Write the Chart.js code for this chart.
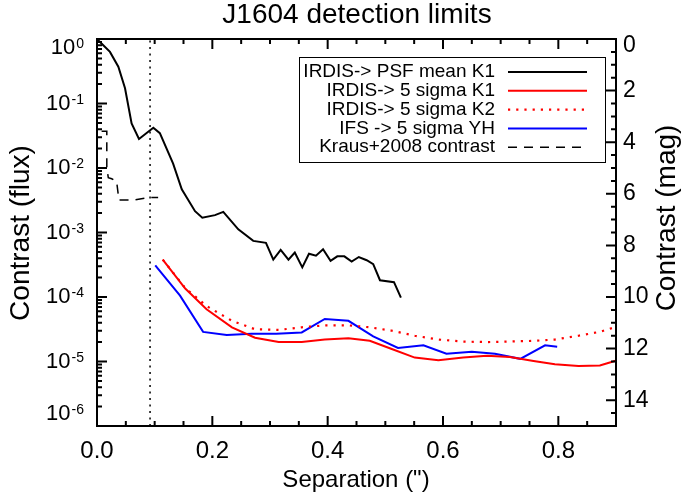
<!DOCTYPE html>
<html>
<head>
<meta charset="utf-8">
<title>J1604 detection limits</title>
<script src="https://cdn.jsdelivr.net/npm/chart.js@4.4.1/dist/chart.umd.min.js"></script>
<style>
  html, body { margin: 0; padding: 0; background: #fff; }
  #wrap { width: 681px; height: 495px; }
</style>
</head>
<body>
<div id="wrap"><canvas id="limits" width="681" height="495"></canvas></div>
<script>
// IRDIS PSF mean K1
const psfSep = [0, 0.0225, 0.037, 0.0486, 0.060, 0.0728, 0.0977, 0.109, 0.132, 0.147, 0.170, 0.1826,
  0.2046, 0.219, 0.245, 0.271, 0.293, 0.3057, 0.3185, 0.332, 0.343, 0.356, 0.3676, 0.3797, 0.392,
  0.405, 0.4167, 0.4289, 0.4416, 0.454, 0.4677, 0.479, 0.4907, 0.515, 0.527];
const psfK1 = [1, 0.631, 0.372, 0.172, 0.049, 0.0282, 0.0422, 0.0347, 0.0117, 0.00468, 0.00214, 0.0017,
  0.00186, 0.00209, 0.00112, 7.41e-4, 6.92e-4, 3.8e-4, 5.37e-4, 3.8e-4, 4.9e-4, 2.88e-4, 4.68e-4, 4.37e-4, 5.5e-4,
  3.63e-4, 4.27e-4, 4.27e-4, 3.55e-4, 4.17e-4, 3.72e-4, 3.24e-4, 1.82e-4, 1.7e-4, 9.77e-5];

// IRDIS 5 sigma K1
const k1Sep = [0.114, 0.153, 0.190, 0.234, 0.274, 0.315, 0.355, 0.395, 0.436, 0.473, 0.510, 0.551,
  0.592, 0.635, 0.676, 0.716, 0.757, 0.794, 0.835, 0.872, 0.895, 0.912];
const k1Sigma = [3.8e-4, 1.35e-4, 6.46e-5, 3.39e-5, 2.34e-5, 2.0e-5, 2.0e-5, 2.19e-5, 2.29e-5, 2.09e-5, 1.58e-5, 1.15e-5,
  1.05e-5, 1.15e-5, 1.23e-5, 1.17e-5, 1.02e-5, 9.1e-6, 8.5e-6, 8.7e-6, 1.0e-5, 1.12e-5];

// IRDIS 5 sigma K2
const k2Sep = [0.114, 0.153, 0.190, 0.234, 0.274, 0.315, 0.355, 0.395, 0.436, 0.473, 0.510, 0.551,
  0.592, 0.635, 0.676, 0.716, 0.757, 0.794, 0.835, 0.872, 0.912];
const k2Sigma = [3.8e-4, 1.38e-4, 7.24e-5, 4.27e-5, 3.16e-5, 3.09e-5, 3.39e-5, 3.63e-5, 3.63e-5, 3.39e-5, 3.02e-5, 2.51e-5,
  2.19e-5, 2.04e-5, 2.0e-5, 2.04e-5, 2.09e-5, 2.19e-5, 2.51e-5, 2.88e-5, 3.72e-5];

// IFS 5 sigma YH
const ifsSep = [0.101, 0.144, 0.184, 0.225, 0.268, 0.311, 0.355, 0.395, 0.436, 0.479, 0.522, 0.566,
  0.606, 0.650, 0.690, 0.734, 0.777, 0.798];
const ifsYH = [3.09e-4, 1.05e-4, 2.88e-5, 2.57e-5, 2.69e-5, 2.69e-5, 2.82e-5, 4.57e-5, 4.27e-5, 2.45e-5, 1.62e-5, 1.78e-5,
  1.32e-5, 1.41e-5, 1.32e-5, 1.10e-5, 1.78e-5, 1.70e-5];

// Kraus+2008
const krausSep = [0.008, 0.017, 0.017, 0.0196, 0.0255, 0.034, 0.038, 0.066, 0.089, 0.106];
const krausContrast = [0.037, 0.037, 0.01, 0.0071, 0.0068, 0.0062, 0.0032, 0.0032, 0.0035, 0.0035];

const iwaSep = 0.092;

const xTickLabels = ['0.0', '0.2', '0.4', '0.6', '0.8'];
const yExponents = [0, -1, -2, -3, -4, -5, -6];
const magTicks = [0, 2, 4, 6, 8, 10, 12, 14];

const FONT = '"Liberation Sans", Arial, Helvetica, sans-serif';

function pts(xs, ys) {
  return xs.map((x, i) => ({ x: x, y: ys[i] }));
}

// IDL style frame: inward ticks, superscript labels, boxed legend
const idlAxes = {
  id: 'idlAxes',
  afterDraw(chart) {
    const ctx = chart.ctx;
    const a = chart.chartArea;
    const sx = chart.scales.x, sy = chart.scales.y, sm = chart.scales.mag;
    ctx.save();
    ctx.strokeStyle = '#000';
    ctx.fillStyle = '#000';
    ctx.setLineDash([]);
    ctx.lineWidth = 2;
    ctx.strokeRect(a.left, a.top, a.right - a.left, a.bottom - a.top);

    ctx.beginPath();
    for (let i = 0; i <= 18; i++) {
      const px = sx.getPixelForValue(i * 0.05);
      const len = i % 4 === 0 ? 10 : 5;
      ctx.moveTo(px, a.bottom); ctx.lineTo(px, a.bottom - len);
      ctx.moveTo(px, a.top); ctx.lineTo(px, a.top + len);
    }
    yExponents.forEach(e => {
      const py = sy.getPixelForValue(Math.pow(10, e));
      ctx.moveTo(a.left, py); ctx.lineTo(a.left + 10, py);
      if (e < 0) {
        for (let k = 2; k <= 9; k++) {
          const pm = sy.getPixelForValue(k * Math.pow(10, e));
          ctx.moveTo(a.left, pm); ctx.lineTo(a.left + 5, pm);
        }
      }
    });
    for (let i = 0; i <= 30; i++) {
      const pm = sm.getPixelForValue(i * 0.5);
      const len = i % 4 === 0 ? 10 : 5;
      ctx.moveTo(a.right, pm); ctx.lineTo(a.right - len, pm);
    }
    ctx.stroke();

    // tick labels
    ctx.font = '24px ' + FONT;
    ctx.textAlign = 'center';
    ctx.textBaseline = 'middle';
    xTickLabels.forEach(t => {
      ctx.fillText(t, sx.getPixelForValue(parseFloat(t)), 451);
    });

    yExponents.forEach(e => {
      let cy = sy.getPixelForValue(Math.pow(10, e));
      cy = Math.max(a.top + 9, Math.min(a.bottom - 12, cy));
      const sup = String(e);
      ctx.font = '14px ' + FONT;
      const supW = ctx.measureText(sup).width;
      ctx.textAlign = 'left';
      ctx.textBaseline = 'alphabetic';
      ctx.fillText(sup, 84 - supW, cy);
      ctx.font = '22px ' + FONT;
      ctx.textAlign = 'right';
      ctx.textBaseline = 'middle';
      ctx.fillText('10', 83 - supW, cy);
    });

    ctx.font = '23px ' + FONT;
    ctx.textAlign = 'left';
    magTicks.forEach(m => {
      let cy = sm.getPixelForValue(m);
      cy = Math.max(a.top + 7, cy);
      ctx.fillText(String(m), a.right + 7, cy);
    });

    // titles
    ctx.textAlign = 'center';
    ctx.font = '28px ' + FONT;
    ctx.fillText('J1604 detection limits', 357, 15);
    ctx.font = '24px ' + FONT;
    ctx.fillText('Separation (")', 356, 480);
    ctx.font = '28px ' + FONT;
    ctx.save();
    ctx.translate(21, 233);
    ctx.rotate(-Math.PI / 2);
    ctx.fillText('Contrast (flux)', 0, 0);
    ctx.restore();
    ctx.save();
    ctx.translate(667, 218);
    ctx.rotate(-Math.PI / 2);
    ctx.fillText('Contrast (mag)', 0, 0);
    ctx.restore();

    // legend
    const box = { left: 299, top: 57, right: 605, bottom: 162 };
    ctx.fillStyle = '#fff';
    ctx.fillRect(box.left, box.top, box.right - box.left, box.bottom - box.top);
    ctx.lineWidth = 1;
    ctx.strokeStyle = '#000';
    ctx.strokeRect(box.left + 0.5, box.top + 0.5, box.right - box.left, box.bottom - box.top);
    ctx.font = '19px ' + FONT;
    ctx.textAlign = 'right';
    ctx.textBaseline = 'middle';
    let row = 0;
    chart.data.datasets.forEach(ds => {
      if (ds.label.startsWith('_')) return;
      const ly = 72 + row * 18.8;
      ctx.fillStyle = '#000';
      ctx.fillText(ds.label, 495, ly);
      ctx.strokeStyle = ds.borderColor;
      ctx.lineWidth = ds.borderWidth;
      ctx.setLineDash(ds.borderDash || []);
      ctx.beginPath();
      ctx.moveTo(508, ly);
      ctx.lineTo(587, ly);
      ctx.stroke();
      row++;
    });
    ctx.restore();
  }
};

const ctx = document.getElementById('limits').getContext('2d');

const chart = new Chart(ctx, {
  type: 'line',
  data: {
    datasets: [
      {
        label: 'IRDIS-> PSF mean K1',
        data: pts(psfSep, psfK1),
        borderColor: '#000000',
        borderWidth: 2
      },
      {
        label: 'IRDIS-> 5 sigma K1',
        data: pts(k1Sep, k1Sigma),
        borderColor: '#ff0000',
        borderWidth: 2
      },
      {
        label: 'IRDIS-> 5 sigma K2',
        data: pts(k2Sep, k2Sigma),
        borderColor: '#ff0000',
        borderWidth: 2.2,
        borderDash: [2.2, 6]
      },
      {
        label: 'IFS -> 5 sigma YH',
        data: pts(ifsSep, ifsYH),
        borderColor: '#0000ff',
        borderWidth: 2
      },
      {
        label: 'Kraus+2008 contrast',
        data: pts(krausSep, krausContrast),
        borderColor: '#000000',
        borderWidth: 1.5,
        borderDash: [9, 7]
      },
      {
        label: '_iwa',
        data: [{ x: iwaSep, y: 1e-6 }, { x: iwaSep, y: 1 }],
        borderColor: '#000000',
        borderWidth: 1.5,
        borderDash: [2, 4.5]
      }
    ]
  },
  options: {
    responsive: false,
    animation: false,
    elements: {
      point: { radius: 0 },
      line: { tension: 0, borderCapStyle: 'butt' }
    },
    layout: {
      padding: { left: 97, right: 65, top: 39, bottom: 69 }
    },
    scales: {
      x: { type: 'linear', min: 0, max: 0.9, display: false },
      y: { type: 'logarithmic', min: 1e-6, max: 1, display: false },
      mag: { axis: 'y', type: 'linear', min: 0, max: 15, reverse: true, position: 'right', display: false }
    },
    plugins: {
      legend: { display: false },
      title: { display: false },
      tooltip: { enabled: false }
    }
  },
  plugins: [idlAxes]
});
</script>
</body>
</html>
